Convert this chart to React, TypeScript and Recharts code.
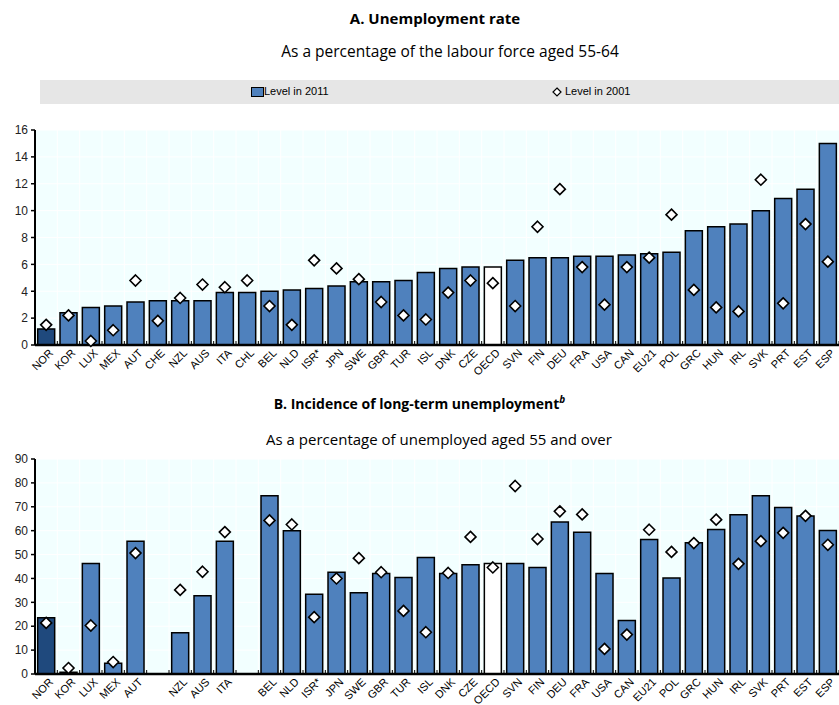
import React from "react";
import {
  ComposedChart,
  Bar,
  Line,
  XAxis,
  YAxis,
  CartesianGrid,
  Cell,
} from "recharts";

const countries = [
  "NOR", "KOR", "LUX", "MEX", "AUT", "CHE", "NZL", "AUS", "ITA", "CHL",
  "BEL", "NLD", "ISR*", "JPN", "SWE", "GBR", "TUR", "ISL", "DNK", "CZE",
  "OECD", "SVN", "FIN", "DEU", "FRA", "USA", "CAN", "EU21", "POL", "GRC",
  "HUN", "IRL", "SVK", "PRT", "EST", "ESP",
];

// Panel A: unemployment rate, % of labour force aged 55-64
const unemp2011 = [
  1.2, 2.4, 2.8, 2.9, 3.2, 3.3, 3.3, 3.3, 3.9, 3.9,
  4.0, 4.1, 4.2, 4.4, 4.7, 4.7, 4.8, 5.4, 5.7, 5.8,
  5.8, 6.3, 6.5, 6.5, 6.6, 6.6, 6.7, 6.8, 6.9, 8.5,
  8.8, 9.0, 10.0, 10.9, 11.6, 15.0,
];
const unemp2001 = [
  1.5, 2.2, 0.3, 1.1, 4.8, 1.8, 3.5, 4.5, 4.3, 4.8,
  2.9, 1.5, 6.3, 5.7, 4.9, 3.2, 2.2, 1.9, 3.9, 4.8,
  4.6, 2.9, 8.8, 11.6, 5.8, 3.0, 5.8, 6.5, 9.7, 4.1,
  2.8, 2.5, 12.3, 3.1, 9.0, 6.2,
];
const ticksA = [0, 2, 4, 6, 8, 10, 12, 14, 16];

// Panel B: long-term unemployment, % of unemployed aged 55 and over
const ltu2011 = [
  23.5, 0.7, 46.3, 4.5, 55.6, null, 17.3, 32.8, 55.6, null,
  74.6, 60.0, 33.4, 42.6, 34.0, 42.1, 40.4, 48.8, 42.1, 45.7,
  46.3, 46.3, 44.6, 63.6, 59.3, 42.1, 22.4, 56.3, 40.2, 54.9,
  60.5, 66.7, 74.6, 69.7, 66.1, 60.1,
];
const ltu2001 = [
  21.4, 2.5, 20.3, 5.0, 50.6, null, 35.2, 42.8, 59.4, null,
  64.3, 62.6, 23.8, 40.0, 48.5, 42.6, 26.4, 17.5, 42.3, 57.4,
  44.6, 78.7, 56.5, 68.1, 66.8, 10.5, 16.5, 60.4, 51.1, 54.8,
  64.6, 46.1, 55.6, 59.1, 66.2, 54.1,
];
const ticksB = [0, 10, 20, 30, 40, 50, 60, 70, 80, 90];

const BLUE = "#4F81BD";
const NAVY = "#1F497D";
const PLOT_BG = "#F2FFFF";
const NARROW = "'Liberation Sans Narrow', 'Arial Narrow', 'Liberation Sans', Arial, sans-serif";
const TITLE_FONT = "'Open Sans', 'Noto Sans', sans-serif";

const CHART_W = 839;
const Y_W = 35;
const BAND = (CHART_W - Y_W) / countries.length;

const dataA = countries.map((c, i) => ({
  label: c,
  v2011: unemp2011[i],
  v2001: unemp2001[i],
}));

const dataB = countries.map((c, i) => ({
  label: ltu2011[i] === null ? "" : c,
  v2011: ltu2011[i],
  v2001: ltu2001[i],
}));

const barFill = (name: string) =>
  name === "NOR" ? NAVY : name === "OECD" ? "#FFFFFF" : BLUE;

const Diamond = (props: any) => {
  const { cx, cy, index } = props;
  if (cy === null || cy === undefined || isNaN(cy)) return <g key={index} />;
  const r = 5.5;
  return (
    <polygon
      key={index}
      points={`${cx},${cy - r} ${cx + r},${cy} ${cx},${cy + r} ${cx - r},${cy}`}
      fill="#fff"
      stroke="#000"
      strokeWidth={1.6}
    />
  );
};

// slanted country label plus a small tick at the right edge of its band
const CountryTick = ({ x, y, payload }: any) => (
  <g>
    <line
      x1={x + BAND / 2}
      x2={x + BAND / 2}
      y1={y - 1}
      y2={y - 4}
      stroke="#000"
      strokeWidth={1}
    />
    <g transform={`translate(${x + 5},${y + 6}) rotate(-45)`}>
      <text
        x={0}
        y={0}
        dy="0.35em"
        textAnchor="end"
        fontSize={11}
        fontFamily={NARROW}
        fill="#000"
      >
        {payload.value}
      </text>
    </g>
  </g>
);

const boundaries = ({ offset }: any) => {
  const n = countries.length;
  const w = offset.width / n;
  return Array.from({ length: n - 1 }, (_, i) => offset.left + (i + 1) * w);
};

const Panel = ({
  data,
  ticks,
  height,
  xHeight,
}: {
  data: any[];
  ticks: number[];
  height: number;
  xHeight: number;
}) => (
  <ComposedChart
    width={CHART_W}
    height={height}
    data={data}
    margin={{ top: 10, right: 0, left: 0, bottom: 0 }}
    barCategoryGap="12%"
  >
    <CartesianGrid
      fill={PLOT_BG}
      fillOpacity={1}
      stroke="#FFFFFF"
      strokeWidth={1}
      verticalCoordinatesGenerator={boundaries}
    />
    <XAxis
      dataKey="label"
      interval={0}
      height={xHeight}
      tickLine={false}
      tickSize={0}
      tickMargin={0}
      axisLine={{ stroke: "#000", strokeWidth: 2.5 }}
      tick={(p: any) => <CountryTick {...p} />}
    />
    <YAxis
      width={Y_W}
      domain={[ticks[0], ticks[ticks.length - 1]]}
      ticks={ticks}
      interval={0}
      tickSize={4}
      tickMargin={3}
      tickLine={{ stroke: "#000", strokeWidth: 1.5 }}
      axisLine={{ stroke: "#000", strokeWidth: 2 }}
      tick={{ fontSize: 12, fontFamily: NARROW, fill: "#222" }}
    />
    <Bar dataKey="v2011" stroke="#000" strokeWidth={1.5} isAnimationActive={false}>
      {data.map((d, i) => (
        <Cell key={`c-${i}`} fill={barFill(d.label)} />
      ))}
    </Bar>
    <Line
      dataKey="v2001"
      stroke="none"
      dot={<Diamond />}
      activeDot={false}
      legendType="none"
      isAnimationActive={false}
    />
  </ComposedChart>
);

const abs = (top: number, extra: React.CSSProperties = {}): React.CSSProperties => ({
  position: "absolute",
  top,
  left: 0,
  ...extra,
});

export default function App() {
  return (
    <div
      style={{
        position: "absolute",
        left: 0,
        top: 0,
        width: 839,
        height: 705,
        background: "#fff",
        overflow: "hidden",
      }}
    >
      <div
        style={abs(8, {
          width: 870,
          textAlign: "center",
          fontFamily: TITLE_FONT,
          fontWeight: 700,
          fontSize: 15,
        })}
      >
        A. Unemployment rate
      </div>
      <div
        style={abs(40, {
          width: 900,
          textAlign: "center",
          fontFamily: TITLE_FONT,
          fontSize: 15.5,
        })}
      >
        As a percentage of the labour force aged 55-64
      </div>

      <div
        style={{
          position: "absolute",
          left: 40,
          top: 80,
          width: 799,
          height: 24,
          background: "#E6E6E6",
          fontFamily: NARROW,
          fontSize: 11,
        }}
      >
        <div
          style={{
            position: "absolute",
            left: 211,
            top: 7,
            width: 11,
            height: 8,
            background: BLUE,
            border: "1px solid #000",
          }}
        />
        <span style={{ position: "absolute", left: 224, top: 5 }}>Level in 2011</span>
        <svg
          style={{ position: "absolute", left: 512, top: 7 }}
          width={10}
          height={10}
        >
          <polygon points="5,1 9,5 5,9 1,5" fill="#fff" stroke="#000" strokeWidth={1.2} />
        </svg>
        <span style={{ position: "absolute", left: 525, top: 5 }}>Level in 2001</span>
      </div>

      <div style={abs(120)}>
        <Panel data={dataA} ticks={ticksA} height={270} xHeight={45} />
      </div>

      <div
        style={abs(392, {
          width: 839,
          textAlign: "center",
          fontFamily: TITLE_FONT,
          fontWeight: 700,
          fontSize: 14,
        })}
      >
        B. Incidence of long-term unemployment
        <sup style={{ fontStyle: "italic", fontSize: 10 }}>b</sup>
      </div>
      <div
        style={abs(429, {
          width: 878,
          textAlign: "center",
          fontFamily: TITLE_FONT,
          fontSize: 15,
        })}
      >
        As a percentage of unemployed aged 55 and over
      </div>

      <div style={abs(449)}>
        <Panel data={dataB} ticks={ticksB} height={256} xHeight={31} />
      </div>
    </div>
  );
}
